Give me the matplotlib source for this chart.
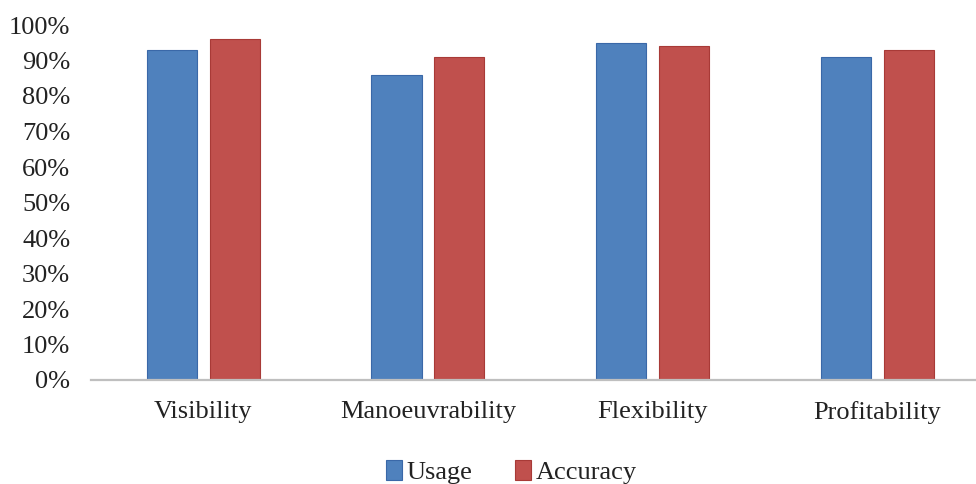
import numpy as np
import matplotlib.pyplot as plt
from matplotlib.ticker import PercentFormatter

categories = ["Visibility", "Manoeuvrability", "Flexibility", "Profitability"]
usage = [93, 86, 95, 91]
accuracy = [96, 91, 94, 93]

plt.rcParams['font.family'] = ['Liberation Serif', 'DejaVu Serif']

fig = plt.figure(figsize=(9.76, 4.84), dpi=100)
ax = fig.add_axes([91/976, 1 - 380/484, 1 - 91/976, 355/484])

x = np.arange(len(categories))
w = 0.223
off = 0.14
ax.bar(x - off, usage, w, color='#4F81BD', edgecolor='#3A68A8', linewidth=0.8, label='Usage')
ax.bar(x + off, accuracy, w, color='#C0504D', edgecolor='#A83A37', linewidth=0.8, label='Accuracy')

ax.set_xlim(-0.5, 3.44)
ax.set_ylim(0, 100)
ax.set_yticks(np.arange(0, 101, 10))
ax.yaxis.set_major_formatter(PercentFormatter(decimals=0))
ax.set_xticks(x)
ax.set_xticklabels(categories)

for s in ['top', 'right', 'left']:
    ax.spines[s].set_visible(False)
ax.spines['bottom'].set_color('#bfbfbf')
ax.spines['bottom'].set_linewidth(1.6)
ax.tick_params(axis='both', length=0, labelsize=19, colors='#222222')
ax.tick_params(axis='y', pad=15)
ax.tick_params(axis='x', pad=15)
for lbl in ax.get_yticklabels():
    lbl.set_verticalalignment('center_baseline')

fig.legend(loc='center', bbox_to_anchor=(0.524, 0.025), ncol=2, frameon=False,
           fontsize=19, handlelength=0.6, handleheight=0.8, handletextpad=0.2,
           columnspacing=1.6, labelcolor='#222222')

fig.savefig('out.png', dpi=100)
